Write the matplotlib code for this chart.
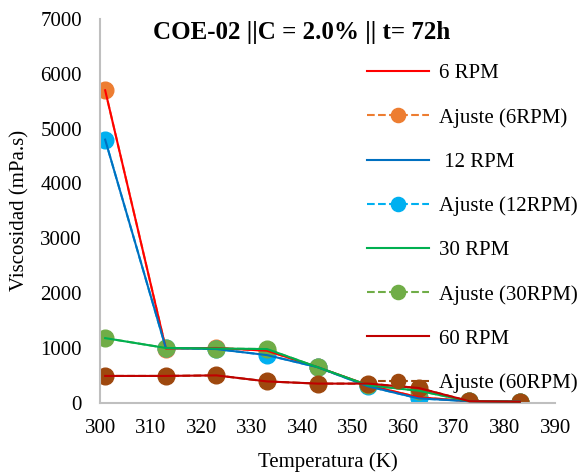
import matplotlib
matplotlib.use("Agg")
import matplotlib.pyplot as plt

plt.rcParams['font.family'] = ['Liberation Serif', 'DejaVu Serif']

temps = [301, 313, 323, 333, 343, 353, 363, 373, 383]
rpm6 = [5700, 990, 1000, 950, 650, 320, 100, 30, 20]
rpm6_fit = [5700, 990, 1000, 950, 650, 320, 100, 30, 20]
rpm12 = [4800, 1000, 980, 870, 650, 300, 80, 30, 20]
rpm12_fit = [4800, 1000, 980, 870, 650, 300, 80, 30, 20]
rpm30 = [1180, 1000, 990, 980, 650, 320, 220, 30, 20]
rpm30_fit = [1180, 1000, 990, 980, 650, 320, 220, 30, 20]
rpm60 = [490, 490, 500, 390, 350, 350, 270, 30, 20]
rpm60_fit = [490, 490, 500, 390, 350, 350, 270, 30, 20]

labels = ['6 RPM', 'Ajuste (6RPM)', ' 12 RPM', 'Ajuste (12RPM)',
          '30 RPM', 'Ajuste (30RPM)', '60 RPM', 'Ajuste (60RPM)']
xticks = [300, 310, 320, 330, 340, 350, 360, 370, 380, 390]
yticks = [0, 1000, 2000, 3000, 4000, 5000, 6000, 7000]

fig = plt.figure(figsize=(5.82, 4.75), dpi=100)
ax = fig.add_axes([0.172, 0.152, 0.782, 0.808])

series = [
    (rpm6, rpm6_fit, '#FF0000', '#ED7D31'),
    (rpm12, rpm12_fit, '#0070C0', '#00B0F0'),
    (rpm30, rpm30_fit, '#00B050', '#70AD47'),
    (rpm60, rpm60_fit, '#C00000', '#9E480E'),
]
handles = []
for i, (raw, fit, c1, c2) in enumerate(series):
    h2, = ax.plot(temps, fit, linestyle='--', color=c2, lw=1.5, marker='o',
                  markersize=12, label=labels[2 * i + 1], zorder=2)
    h1, = ax.plot(temps, raw, linestyle='-', color=c1, lw=1.5,
                  label=labels[2 * i], zorder=3)
    handles += [h1, h2]

ax.set_xlim(300, 390)
ax.set_ylim(0, 7000)
ax.set_xticks(xticks)
ax.set_yticks(yticks)
ax.tick_params(labelsize=15, length=0)
ax.tick_params(axis='y', pad=13)
ax.tick_params(axis='x', pad=12)
for s in ['top', 'right']:
    ax.spines[s].set_visible(False)
for s in ['left', 'bottom']:
    ax.spines[s].set_color('#BFBFBF')
    ax.spines[s].set_linewidth(1.5)

ax.set_xlabel('Temperatura (K)', fontsize=15, labelpad=10)
ax.set_ylabel('Viscosidad (mPa.s)', fontsize=15, labelpad=8)

fig.text(302 / 582, 1 - 33 / 475, 'COE-02 ||C = 2.0% || t= 72h', fontsize=18,
         fontweight='bold', ha='center', va='center')

leg = ax.legend(handles=handles, loc='upper left',
                bbox_to_anchor=(348 / 582, 1 - 45 / 475),
                bbox_transform=fig.transFigure, frameon=False, fontsize=15,
                handlelength=3.0, markerscale=0.85, labelspacing=1.18,
                handletextpad=0.45)

fig.savefig('out.png', dpi=100)
